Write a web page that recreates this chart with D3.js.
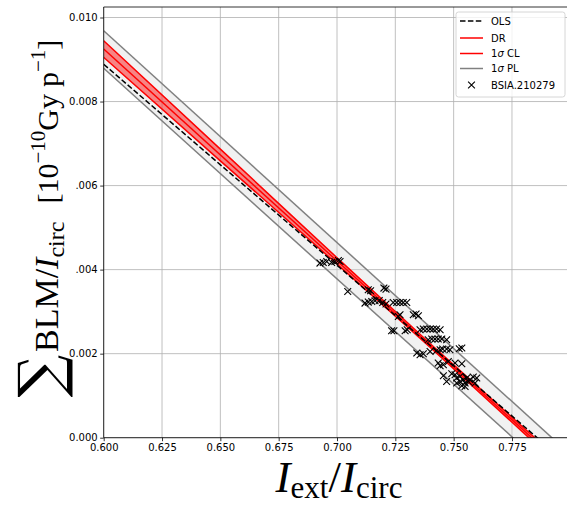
<!DOCTYPE html>
<html><head><meta charset="utf-8">
<script src="https://cdn.jsdelivr.net/npm/d3@7"></script>
<style>body{margin:0;background:#fff}svg{display:block}</style>
</head><body>
<svg id="c" width="567" height="509"></svg>
<script>
// ---- data ----
const xTicks = [0.600, 0.625, 0.650, 0.675, 0.700, 0.725, 0.750, 0.775];
const xTickLabels = ["0.600", "0.625", "0.650", "0.675", "0.700", "0.725", "0.750", "0.775"];
const yTicks = [0.000, 0.002, 0.004, 0.006, 0.008, 0.010];
const yTickLabels = ["0.000", "0.002", ".004", ".006", "0.008", "0.010"];

const lineX = [0.60, 0.80];
const olsY = [0.008887, -0.000679];
const drY = [0.009249, -0.000833];
const plUpper = [0.009686, -0.000398];
const plLower = [0.008792, -0.001234];

const clX = [0.60, 0.65, 0.70, 0.74, 0.78, 0.80];
const clUpper = [0.009446, 0.006868, 0.004283, 0.002237, 0.000235, -0.000753];
const clLower = [0.009052, 0.006588, 0.004133, 0.002147, 0.000115, -0.000913];

const ptsX = [0.6927,0.6941,0.6956,0.6977,0.6991,0.7006,0.7013,0.7046,0.7134,0.7144,
  0.7201,0.7210,0.7120,0.7134,0.7149,0.7163,0.7181,0.7196,0.7210,0.7241,
  0.7256,0.7270,0.7284,0.7299,0.7263,0.7270,0.7327,0.7339,0.7349,0.7234,
  0.7244,0.7292,0.7301,0.7356,0.7370,0.7385,0.7399,0.7413,0.7427,0.7442,
  0.7391,0.7406,0.7420,0.7434,0.7449,0.7470,0.7342,0.7356,0.7370,0.7399,
  0.7427,0.7442,0.7453,0.7470,0.7484,0.7524,0.7434,0.7442,0.7456,0.7477,
  0.7506,0.7535,0.7456,0.7470,0.7492,0.7506,0.7513,0.7527,0.7541,0.7513,
  0.7527,0.7556,0.7570,0.7584,0.7599,0.7549,0.7563,0.7535,0.7549,0.7592,0.7535];
const ptsY = [0.004155,0.004169,0.004193,0.004169,0.004193,0.004216,0.004193,0.003479,0.003520,0.003496,
  0.003560,0.003536,0.003203,0.003227,0.003241,0.003258,0.003265,0.003218,0.003180,0.003218,
  0.003218,0.003218,0.003218,0.003218,0.002885,0.002925,0.002925,0.002942,0.002901,0.002545,
  0.002545,0.002545,0.002568,0.002568,0.002585,0.002585,0.002585,0.002585,0.002585,0.002568,
  0.002331,0.002347,0.002347,0.002347,0.002347,0.002331,0.002014,0.001974,0.001998,0.002052,
  0.002076,0.002093,0.002109,0.002109,0.002093,0.002117,0.001776,0.001712,0.001736,0.001815,
  0.001776,0.001760,0.001474,0.001339,0.001522,0.001498,0.001420,0.001458,0.001379,0.001301,
  0.001339,0.001420,0.001379,0.001443,0.001420,0.001301,0.001339,0.001237,0.001220,0.001301,0.002133];

const legendLabels = ["OLS", "DR", "1σ CL", "1σ PL", "BSIA.210279"];

// ---- chart ----
const svg = d3.select('#c');
const L = 103.7, R = 570.3, T = 7, B = 437.7;
const x = d3.scaleLinear().domain([0.6, 0.8]).range([L, R]);
const y = d3.scaleLinear().domain([0, 0.01025]).range([B, T]);

svg.append('defs').append('clipPath').attr('id', 'clip')
  .append('rect').attr('x', L).attr('y', T).attr('width', R - L).attr('height', B - T);

// grid
const grid = svg.append('g');
grid.selectAll('.gx').data(xTicks).enter().append('line')
  .attr('x1', d => x(d)).attr('x2', d => x(d)).attr('y1', T).attr('y2', B)
  .attr('stroke', '#b0b0b0').attr('stroke-width', 0.8);
grid.selectAll('.gy').data(yTicks).enter().append('line')
  .attr('y1', d => y(d)).attr('y2', d => y(d)).attr('x1', L).attr('x2', R)
  .attr('stroke', '#b0b0b0').attr('stroke-width', 0.8);

const plot = svg.append('g').attr('clip-path', 'url(#clip)');

// PL band
const plData = lineX.map((v, i) => ({x: v, u: plUpper[i], l: plLower[i]}));
plot.append('path').datum(plData)
  .attr('d', d3.area().x(d => x(d.x)).y0(d => y(d.l)).y1(d => y(d.u)))
  .attr('fill', '#d8d8d8').attr('fill-opacity', 0.35);
[plUpper, plLower].forEach(arr => {
  plot.append('path').datum(lineX.map((v, i) => [v, arr[i]]))
    .attr('d', d3.line().x(d => x(d[0])).y(d => y(d[1])))
    .attr('fill', 'none').attr('stroke', '#808080').attr('stroke-width', 1.5);
});

// CL band
const clData = clX.map((v, i) => ({x: v, u: clUpper[i], l: clLower[i]}));
plot.append('path').datum(clData)
  .attr('d', d3.area().x(d => x(d.x)).y0(d => y(d.l)).y1(d => y(d.u)).curve(d3.curveMonotoneX))
  .attr('fill', '#ff0000').attr('fill-opacity', 0.45);
[clUpper, clLower].forEach(arr => {
  plot.append('path').datum(clX.map((v, i) => [v, arr[i]]))
    .attr('d', d3.line().x(d => x(d[0])).y(d => y(d[1])).curve(d3.curveMonotoneX))
    .attr('fill', 'none').attr('stroke', '#ff0000').attr('stroke-width', 1.5);
});
// DR
plot.append('path').datum(lineX.map((v, i) => [v, drY[i]]))
  .attr('d', d3.line().x(d => x(d[0])).y(d => y(d[1])))
  .attr('fill', 'none').attr('stroke', '#ff0000').attr('stroke-width', 1.5);
// OLS
plot.append('path').datum(lineX.map((v, i) => [v, olsY[i]]))
  .attr('d', d3.line().x(d => x(d[0])).y(d => y(d[1])))
  .attr('fill', 'none').attr('stroke', '#000').attr('stroke-width', 1.5)
  .attr('stroke-dasharray', '5.5,2.4');

// scatter
const s = 3.4;
const pts = ptsX.map((v, i) => [v, ptsY[i]]);
plot.selectAll('.pt').data(pts).enter().append('path')
  .attr('transform', d => `translate(${x(d[0])},${y(d[1])})`)
  .attr('d', `M${-s},${-s}L${s},${s}M${-s},${s}L${s},${-s}`)
  .attr('stroke', '#000').attr('stroke-width', 1.1).attr('fill', 'none');

// spines
svg.append('line').attr('x1', L).attr('x2', L).attr('y1', T).attr('y2', B).attr('stroke', '#000').attr('stroke-width', 0.8);
svg.append('line').attr('x1', L).attr('x2', R).attr('y1', B).attr('y2', B).attr('stroke', '#000').attr('stroke-width', 0.8);
svg.append('line').attr('x1', L).attr('x2', R).attr('y1', T).attr('y2', T).attr('stroke', '#000').attr('stroke-width', 0.8);

// axes
const xAxis = d3.axisBottom(x).tickValues(xTicks).tickFormat((d, i) => xTickLabels[i]).tickSize(3.5).tickPadding(2.5);
const gx = svg.append('g').attr('transform', `translate(0,${B})`).call(xAxis);
const yAxis = d3.axisLeft(y).tickValues(yTicks).tickFormat((d, i) => yTickLabels[i]).tickSize(3.5).tickPadding(2.5);
const gy = svg.append('g').attr('transform', `translate(${L},0)`).call(yAxis);
[gx, gy].forEach(g => {
  g.select('.domain').remove();
  g.selectAll('text').attr('font-family', 'DejaVu Sans').attr('font-size', 10).attr('fill', '#000');
  g.selectAll('line').attr('stroke', '#000').attr('stroke-width', 0.8);
});

// x label
const xl = svg.append('text').attr('x', 339).attr('y', 492).attr('text-anchor', 'middle')
  .attr('font-family', 'Liberation Serif').attr('font-size', 45).attr('fill', '#000');
xl.append('tspan').attr('font-style', 'italic').text('I');
xl.append('tspan').attr('font-size', 31).attr('dy', 6).text('ext');
xl.append('tspan').attr('dy', -6).text('/');
xl.append('tspan').attr('font-style', 'italic').text('I');
xl.append('tspan').attr('font-size', 31).attr('dy', 6).text('circ');

// y label
svg.append('text').attr('transform', 'translate(40,376) rotate(-90)')
  .attr('text-anchor', 'middle').attr('dominant-baseline', 'central')
  .attr('font-family', 'DejaVu Serif').attr('font-size', 60).attr('fill', '#000').text('∑');
const yl = svg.append('text').attr('transform', 'translate(58,352) rotate(-90)')
  .attr('text-anchor', 'start')
  .attr('font-family', 'Liberation Serif').attr('font-size', 34).attr('fill', '#000');
yl.append('tspan').text('BLM/');
yl.append('tspan').attr('font-style', 'italic').text('I');
yl.append('tspan').attr('font-size', 24).attr('dy', 6).text('circ');
yl.append('tspan').attr('font-size', 30).attr('dy', -6).attr('dx', 18).text('[10');
yl.append('tspan').attr('font-size', 21).attr('dy', -13).text('−10');
yl.append('tspan').attr('font-size', 30).attr('dy', 13).text('Gy');
yl.append('tspan').attr('font-size', 30).attr('dx', 7).text('p');
yl.append('tspan').attr('font-size', 21).attr('dy', -13).text('−1');
yl.append('tspan').attr('font-size', 30).attr('dy', 13).text(']');

// legend
const lg = svg.append('g').attr('transform', 'translate(456,12)');
lg.append('rect').attr('width', 109).attr('height', 85).attr('rx', 2.5)
  .attr('fill', '#fff').attr('fill-opacity', 0.8).attr('stroke', '#cccccc').attr('stroke-width', 0.8);
const rowY = [9, 26, 41.5, 56.5, 73];
const styles = [
  {stroke: '#000', dash: '5.5,2.4'},
  {stroke: '#ff0000'},
  {stroke: '#ff0000'},
  {stroke: '#808080'},
  {marker: true}
];
legendLabels.forEach((lab, i) => {
  const g = lg.append('g').attr('transform', `translate(0,${rowY[i]})`);
  const st = styles[i];
  if (st.marker) {
    g.append('path').attr('transform', 'translate(15.5,0)')
      .attr('d', `M${-s},${-s}L${s},${s}M${-s},${s}L${s},${-s}`)
      .attr('stroke', '#000').attr('stroke-width', 1.1);
  } else {
    g.append('line').attr('x1', 4).attr('x2', 27).attr('stroke', st.stroke).attr('stroke-width', 1.5)
      .attr('stroke-dasharray', st.dash || null);
  }
  const t = g.append('text').attr('x', 35).attr('y', 3.6)
    .attr('font-family', 'DejaVu Sans').attr('font-size', 10).attr('fill', '#000');
  if (lab.includes('σ')) {
    const parts = lab.split('σ');
    t.append('tspan').text(parts[0]);
    t.append('tspan').attr('font-style', 'italic').text('σ');
    t.append('tspan').text(parts[1]);
  } else t.text(lab);
});
</script>
</body></html>
